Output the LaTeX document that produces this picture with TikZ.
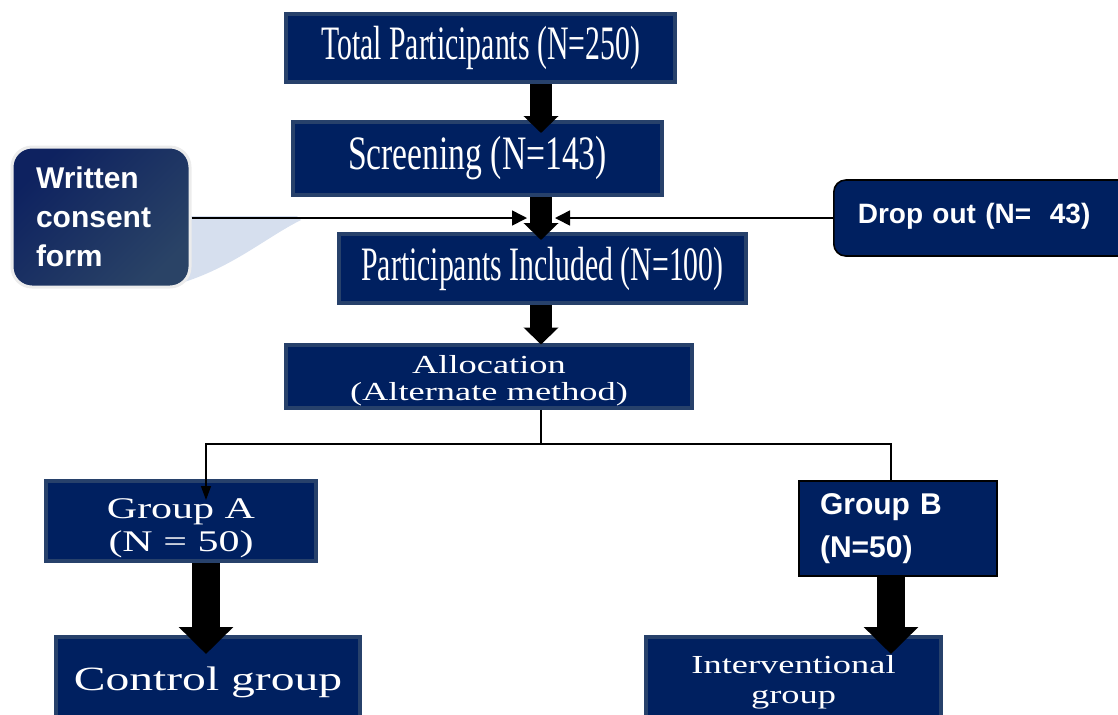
\documentclass[tikz,border=0pt]{standalone}
\usepackage{fontspec}
\usepackage{tikz}
\usetikzlibrary{arrows.meta,calc}
\newfontfamily\condserif[FakeStretch=0.62]{Liberation Serif}
\newfontfamily\condserifwide[FakeStretch=0.7]{Liberation Serif}
\newfontfamily\wideserif[FakeStretch=1.4]{Liberation Serif}
\newfontfamily\boldsans{Liberation Sans}
\definecolor{navyfill}{HTML}{002060}
\definecolor{navyedge}{HTML}{27416B}
\definecolor{consentA}{HTML}{0E2260}
\definecolor{consentB}{HTML}{2A4366}
\definecolor{tailblue}{HTML}{D6DFEE}
\tikzset{
	navybox/.style={draw=navyedge, line width=2pt, fill=navyfill, text=white, inner sep=0pt},
	fatarrow/.style={line width=11pt, -{Triangle[length=8.5pt,width=17pt]}},
	bigarrow/.style={line width=14pt, -{Triangle[length=13.5pt,width=26.5pt]}},
	thinarrow/.style={line width=0.8pt, -{Triangle[length=7.5pt,width=7.5pt]}},
	branch/.style={line width=0.7pt}
}

\begin{document}
\begin{tikzpicture}[x=0.5pt,y=-0.5pt]
			%%%%% START %%%%%
			\useasboundingbox (0,0) rectangle (1118,714);
			
			\coordinate (spine) at (541,0);
			\coordinate (colA) at (206,0);
			\coordinate (colB) at (891,0);
			\coordinate (mergeL) at (527,218);
			\coordinate (mergeR) at (555,218);
			\coordinate (split) at (541,444);
			
			% main column
			\node[navybox, minimum width=194.5pt, minimum height=34pt, font=\condserif\fontsize{24}{26}\selectfont] (total) at (480.5,48) {Total Participants (N=250)};
			\node[navybox, minimum width=184.5pt, minimum height=36.5pt, font=\condserifwide\fontsize{24}{26}\selectfont] (scr) at (477.5,158.5) {Screening (N=143)};
			\node[navybox, minimum width=203.5pt, minimum height=34.5pt, font=\condserif\fontsize{24}{26}\selectfont] (incl) at (542.5,268.5) {Participants Included (N=100)};
			\node[navybox, minimum width=203pt, minimum height=30pt, align=center, text height=28pt, text depth=3.5pt, font=\wideserif\fontsize{13}{13.5}\selectfont] (alloc) at (489,376) {Allocation\\(Alternate method)};
			
			% groups
			\node[navybox, minimum width=135pt, minimum height=40pt, align=center, text height=34pt, text depth=4pt, font=\wideserif\fontsize{15}{16.5}\selectfont] (grpA) at (181,521) {Group A\\(N = 50)};
			\node[navybox, draw=black, line width=1pt, minimum width=99pt, minimum height=47.5pt, inner xsep=10.5pt, text width=78pt, align=left, font=\boldsans\bfseries\fontsize{15}{21.5}\selectfont] (grpB) at (898,528.5) {Group B\\(N=50)};
			\node[navybox, minimum width=152pt, minimum height=45pt, font=\wideserif\fontsize{17}{20}\selectfont] (ctrl) at (208,682) {Control group};
			\node[navybox, minimum width=147.5pt, minimum height=45pt, align=center, font=\wideserif\fontsize{13}{15}\selectfont] (interv) at (793.5,682) {Interventional\\group};
			
			% side boxes
			\fill[tailblue] (186,216) -- (297,216) -- (301,220) .. controls (265,238) and (232,268) .. (178,284) -- cycle;
			\node[draw=gray!15, line width=1.5pt, rounded corners=10pt, top color=consentA, bottom color=consentB, shading angle=45, text=white, minimum width=89pt, minimum height=70pt, inner xsep=12pt, text width=65pt, align=left, font=\boldsans\bfseries\fontsize{15}{19.5}\selectfont] (consent) at (101,217) {Written\\consent\\form};
			\node[draw=black, line width=0.8pt, fill=navyfill, text=white, rounded corners=6pt, anchor=west, minimum width=160pt, minimum height=38pt, inner xsep=12pt, text width=136pt, align=left, font=\boldsans\bfseries\fontsize{14}{17}\selectfont] (drop) at (833,218) {\raisebox{5pt}{Drop out (N=\ \ 43)}};
			
			% block arrows
			\draw[fatarrow] (total.south -| spine) -- ([yshift=-6.5pt]scr.north -| spine);
			\draw[fatarrow] (scr.south -| spine) -- ([yshift=-4pt]incl.north -| spine);
			\draw[fatarrow] (incl.south -| spine) -- ([yshift=-1pt]alloc.north -| spine);
			\draw[bigarrow] (grpA.south -| colA) -- ([yshift=-9.5pt]ctrl.north -| colA);
			\draw[bigarrow] (grpB.south -| colB) -- ([yshift=-9.5pt]interv.north -| colB);
			
			% thin arrows
			\draw[thinarrow] (consent.east |- mergeL) -- (mergeL);
			\draw[thinarrow] (drop.west) -- (mergeR);
			
			\draw[branch] (alloc.south -| split) -- (split);
			\draw[branch, -{Triangle[length=7pt,width=5pt]}] (split) -| ([yshift=-10.5pt]grpA.north -| colA);
			\draw[branch] (split) -| (grpB.north -| colB);
			
			%%%%% END %%%%%
\end{tikzpicture}
\end{document}
